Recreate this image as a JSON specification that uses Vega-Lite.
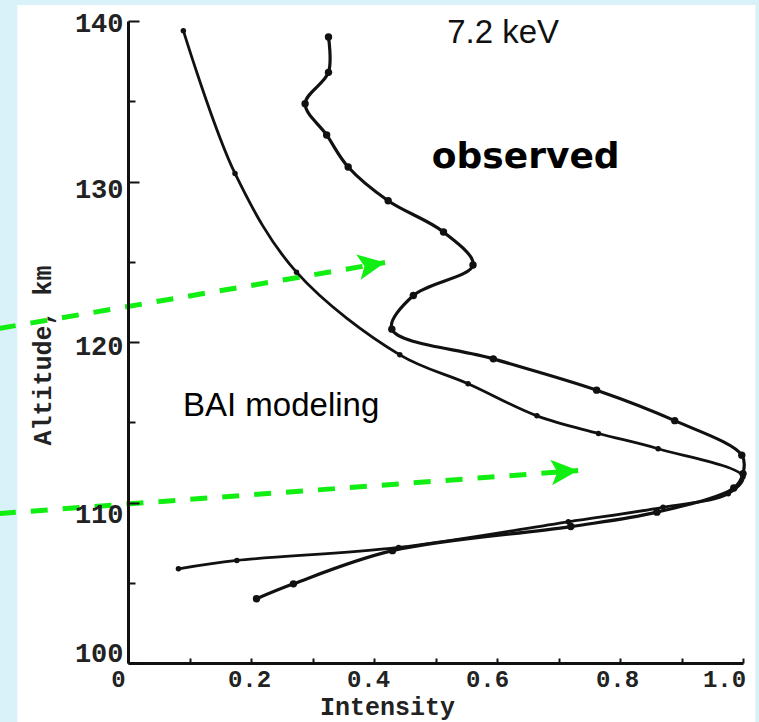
{
  "$schema": "https://vega.github.io/schema/vega-lite/v6.json",
  "width": 615,
  "height": 642,
  "autosize": {"type": "none"},
  "padding": {"left": 128, "top": 21, "right": 16, "bottom": 59},
  "background": "#d9f1f8",
  "config": {"view": {"stroke": null}},
  "datasets": {
    "panel": [{"x": -0.18, "x2": 1.02, "y": 141.0, "y2": 96.2}],
    "arrows": [
      {"arrow": "a1", "i": 0, "x": -0.21, "y": 120.84},
      {"arrow": "a1", "i": 1, "x": 0.418, "y": 124.95},
      {"arrow": "a2", "i": 0, "x": -0.21, "y": 109.31},
      {"arrow": "a2", "i": 1, "x": 0.732, "y": 111.99}
    ],
    "curves": [
      {"series": "observed", "i": 0, "x": 0.326, "y": 139.0},
      {"series": "observed", "i": 1, "x": 0.326, "y": 136.8},
      {"series": "observed", "i": 2, "x": 0.288, "y": 134.85},
      {"series": "observed", "i": 3, "x": 0.323, "y": 132.9},
      {"series": "observed", "i": 4, "x": 0.358, "y": 130.9},
      {"series": "observed", "i": 5, "x": 0.423, "y": 128.8},
      {"series": "observed", "i": 6, "x": 0.513, "y": 126.85},
      {"series": "observed", "i": 7, "x": 0.561, "y": 124.8},
      {"series": "observed", "i": 8, "x": 0.464, "y": 122.9},
      {"series": "observed", "i": 9, "x": 0.429, "y": 120.8},
      {"series": "observed", "i": 10, "x": 0.594, "y": 118.95},
      {"series": "observed", "i": 11, "x": 0.762, "y": 117.0},
      {"series": "observed", "i": 12, "x": 0.889, "y": 115.1},
      {"series": "observed", "i": 13, "x": 0.998, "y": 112.95},
      {"series": "observed", "i": 14, "x": 1.0, "y": 111.8},
      {"series": "observed", "i": 15, "x": 0.985, "y": 110.9},
      {"series": "observed", "i": 16, "x": 0.86, "y": 109.4},
      {"series": "observed", "i": 17, "x": 0.72, "y": 108.5},
      {"series": "observed", "i": 18, "x": 0.43, "y": 107.0},
      {"series": "observed", "i": 19, "x": 0.269, "y": 104.93},
      {"series": "observed", "i": 20, "x": 0.209, "y": 104.0},
      {"series": "BAI", "i": 0, "x": 0.09, "y": 139.4},
      {"series": "BAI", "i": 1, "x": 0.174, "y": 130.5},
      {"series": "BAI", "i": 2, "x": 0.274, "y": 124.35},
      {"series": "BAI", "i": 3, "x": 0.442, "y": 119.2},
      {"series": "BAI", "i": 4, "x": 0.553, "y": 117.4},
      {"series": "BAI", "i": 5, "x": 0.665, "y": 115.4},
      {"series": "BAI", "i": 6, "x": 0.765, "y": 114.3},
      {"series": "BAI", "i": 7, "x": 0.862, "y": 113.35},
      {"series": "BAI", "i": 8, "x": 1.0, "y": 111.6},
      {"series": "BAI", "i": 9, "x": 0.976, "y": 110.54},
      {"series": "BAI", "i": 10, "x": 0.87, "y": 109.7},
      {"series": "BAI", "i": 11, "x": 0.716, "y": 108.8},
      {"series": "BAI", "i": 12, "x": 0.44, "y": 107.2},
      {"series": "BAI", "i": 13, "x": 0.177, "y": 106.39},
      {"series": "BAI", "i": 14, "x": 0.082, "y": 105.87}
    ],
    "notes": [
      {"text": "7.2 keV", "x": 0.519, "y": 138.66},
      {"text": "observed", "x": 0.494, "y": 130.81},
      {"text": "BAI modeling", "x": 0.0894, "y": 115.42}
    ]
  },
  "encoding": {
    "x": {
      "field": "x", "type": "quantitative",
      "scale": {"domain": [0, 1], "nice": false, "zero": false},
      "axis": {
        "zindex": 1,
        "values": [0, 0.1, 0.2, 0.3, 0.4, 0.5, 0.6, 0.7, 0.8, 0.9, 1.0],
        "labelExpr": "round(datum.value*10) % 2 == 0 ? (datum.value == 0 ? '0' : format(datum.value, '.1f')) : ''",
        "grid": false,
        "domainColor": "#111", "domainWidth": 3,
        "tickColor": "#111", "tickWidth": 2, "tickSize": -5,
        "labelFont": "Liberation Mono", "labelFontWeight": "bold", "labelFontSize": 24, "labelColor": "#222",
        "labelPadding": 9, "labelFlush": false, "labelBaseline": "top", "labelOverlap": false,
        "labelOffset": {"condition": [
          {"test": "datum.value == 0", "value": -10},
          {"test": "abs(datum.value - 0.2) < 0.01", "value": -2},
          {"test": "abs(datum.value - 0.4) < 0.01", "value": -6},
          {"test": "abs(datum.value - 0.6) < 0.01", "value": -10},
          {"test": "abs(datum.value - 0.8) < 0.01", "value": -3},
          {"test": "abs(datum.value - 1.0) < 0.01", "value": -19}
        ], "value": 0},
        "title": "Intensity",
        "titleFont": "Liberation Mono", "titleFontWeight": "bold", "titleFontSize": 25, "titleColor": "#222",
        "titleX": 259, "titleY": 51, "titleBaseline": "alphabetic", "titleAlign": "center"
      }
    },
    "y": {
      "field": "y", "type": "quantitative",
      "scale": {"domain": [100, 140], "nice": false, "zero": false},
      "axis": {
        "zindex": 1,
        "values": [100, 105, 110, 115, 120, 125, 130, 135, 140],
        "labelExpr": "datum.value % 10 == 0 ? datum.label : ''",
        "grid": false,
        "domainColor": "#111", "domainWidth": 3,
        "tickColor": "#111", "tickWidth": 2,
        "tickSize": {"condition": {"test": "datum.value % 10 == 0", "value": -11}, "value": -7},
        "labelFont": "Liberation Mono", "labelFontWeight": "bold", "labelFontSize": 27, "labelColor": "#222",
        "labelPadding": 16, "labelFlush": false, "labelBaseline": "middle", "labelOverlap": false,
        "labelOffset": {"condition": [
          {"test": "datum.value == 140", "value": 2},
          {"test": "datum.value == 130", "value": 8},
          {"test": "datum.value == 120", "value": 4},
          {"test": "datum.value == 110", "value": 12},
          {"test": "datum.value == 100", "value": -10}
        ], "value": 0},
        "title": "Altitude, km",
        "titleFont": "Liberation Mono", "titleFontWeight": "bold", "titleFontSize": 25, "titleColor": "#222",
        "titleX": -86, "titleY": 334, "titleAngle": -90, "titleBaseline": "middle", "titleAlign": "center"
      }
    }
  },
  "layer": [
    {
      "data": {"name": "panel"},
      "mark": {"type": "rect", "fill": "white"},
      "encoding": {"x2": {"field": "x2"}, "y2": {"field": "y2"}}
    },
    {
      "data": {"name": "arrows"},
      "mark": {"type": "line", "color": "#11ee11", "strokeWidth": 5, "strokeDash": [17, 15], "strokeCap": "butt"},
      "encoding": {"detail": {"field": "arrow"}, "order": {"field": "i"}}
    },
    {
      "data": {"name": "arrows"},
      "transform": [{"filter": "datum.i == 1 && datum.arrow == 'a1'"}],
      "mark": {"type": "point", "shape": "M0,0 L-2,-0.95 L-1.55,0 L-2,0.95 Z", "size": 729, "filled": true, "color": "#11ee11", "opacity": 1, "angle": -9.9},
      "encoding": {}
    },
    {
      "data": {"name": "arrows"},
      "transform": [{"filter": "datum.i == 1 && datum.arrow == 'a2'"}],
      "mark": {"type": "point", "shape": "M0,0 L-2,-0.95 L-1.55,0 L-2,0.95 Z", "size": 729, "filled": true, "color": "#11ee11", "opacity": 1, "angle": -4.2},
      "encoding": {}
    },
    {
      "data": {"name": "curves"},
      "transform": [{"filter": "datum.series == 'BAI'"}],
      "mark": {"type": "line", "color": "#111", "strokeWidth": 2.8, "interpolate": "catmull-rom"},
      "encoding": {"order": {"field": "i"}}
    },
    {
      "data": {"name": "curves"},
      "transform": [{"filter": "datum.series == 'observed'"}],
      "mark": {"type": "line", "color": "#111", "strokeWidth": 3.2, "interpolate": "catmull-rom"},
      "encoding": {"order": {"field": "i"}}
    },
    {
      "data": {"name": "curves"},
      "transform": [{"filter": "datum.series == 'BAI'"}],
      "mark": {"type": "point", "shape": "circle", "size": 30, "filled": true, "color": "#111", "opacity": 1},
      "encoding": {}
    },
    {
      "data": {"name": "curves"},
      "transform": [{"filter": "datum.series == 'observed'"}],
      "mark": {"type": "point", "shape": "circle", "size": 55, "filled": true, "color": "#111", "opacity": 1},
      "encoding": {}
    },
    {
      "data": {"name": "notes"},
      "transform": [{"filter": "datum.text == '7.2 keV'"}],
      "mark": {"type": "text", "font": "Liberation Sans", "fontSize": 33, "color": "#111", "align": "left", "baseline": "alphabetic"},
      "encoding": {"text": {"field": "text"}}
    },
    {
      "data": {"name": "notes"},
      "transform": [{"filter": "datum.text == 'observed'"}],
      "mark": {"type": "text", "font": "DejaVu Sans", "fontWeight": "bold", "fontSize": 36, "color": "#000", "align": "left", "baseline": "alphabetic"},
      "encoding": {"text": {"field": "text"}}
    },
    {
      "data": {"name": "notes"},
      "transform": [{"filter": "datum.text == 'BAI modeling'"}],
      "mark": {"type": "text", "font": "Liberation Sans", "fontSize": 33, "color": "#000", "align": "left", "baseline": "alphabetic"},
      "encoding": {"text": {"field": "text"}}
    }
  ]
}
